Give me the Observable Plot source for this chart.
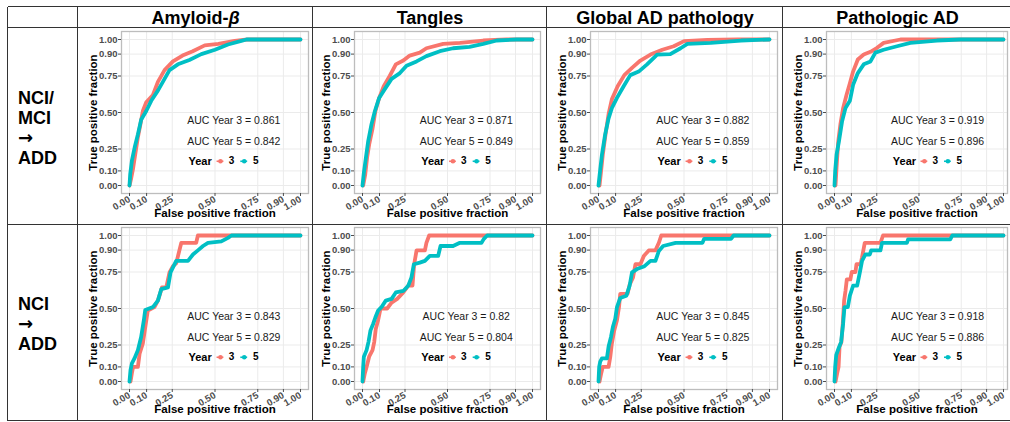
<!DOCTYPE html>
<html><head><meta charset="utf-8">
<script src="https://cdn.jsdelivr.net/npm/d3@7"></script>
<script src="https://cdn.jsdelivr.net/npm/@observablehq/plot@0.6"></script>
<style>
html,body{margin:0;padding:0;background:#fff;width:1010px;height:422px;overflow:hidden;font-family:Arial,"Liberation Sans",sans-serif;}
#root{position:relative;width:1010px;height:422px;overflow:hidden;}
.hl{position:absolute;height:0;border-top:1.6px solid #333;}
.vl{position:absolute;width:0;border-left:1.6px solid #333;}
.hdr{position:absolute;font-weight:bold;font-size:18px;text-align:center;line-height:21px;color:#000;white-space:nowrap;}
.rowlab{position:absolute;font-weight:bold;font-size:18px;line-height:20px;color:#000;}
.rowlab .arr{font-family:"DejaVu Sans",sans-serif;font-weight:bold;font-size:18px;}
.panel{position:absolute;color:#4d4d4d;}
</style></head><body><div id="root"></div>
<script>
// ---- categories / labels ----
const columnHeaders = ["Amyloid-<i>β</i>", "Tangles", "Global AD pathology", "Pathologic AD"];
const rowLabels = [["NCI/", "MCI", "→", "ADD"], ["NCI", "→", "ADD"]];
const years = ["3", "5"];
const yearColors = ["#F8766D", "#00BFC4"];
const tickValues = [0, 0.1, 0.25, 0.5, 0.75, 0.9, 1];
const xTitle = "False positive fraction";
const yTitle = "True positive fraction";
const legendTitle = "Year";

// ---- AUC values (row-major: NCI/MCI row, then NCI row) ----
const aucYear3 = [["0.861", "0.871", "0.882", "0.919"], ["0.843", "0.82", "0.845", "0.918"]];
const aucYear5 = [["0.842", "0.849", "0.859", "0.896"], ["0.829", "0.804", "0.825", "0.886"]];

// ---- ROC curves [fpr, tpr] ----
const rocAmyloidAll3 = [[0,0],[0.01,0.05],[0.02,0.11],[0.033,0.21],[0.049,0.33],[0.064,0.42],[0.078,0.51],[0.098,0.57],[0.137,0.62],[0.166,0.71],[0.205,0.79],[0.254,0.85],[0.31,0.89],[0.37,0.92],[0.44,0.96],[0.52,0.97],[0.615,0.99],[0.69,1],[1,1]];
const rocAmyloidAll5 = [[0,0],[0.004,0.075],[0.014,0.17],[0.03,0.26],[0.049,0.35],[0.068,0.45],[0.098,0.51],[0.127,0.58],[0.166,0.65],[0.205,0.73],[0.234,0.79],[0.283,0.83],[0.35,0.86],[0.42,0.9],[0.5,0.93],[0.576,0.966],[0.654,0.99],[0.684,1],[1,1]];
const rocTanglesAll3 = [[0.004,0],[0.016,0.075],[0.027,0.19],[0.039,0.28],[0.059,0.39],[0.076,0.51],[0.098,0.6],[0.125,0.68],[0.16,0.75],[0.196,0.83],[0.24,0.856],[0.278,0.89],[0.337,0.91],[0.376,0.94],[0.475,0.97],[0.573,0.977],[0.71,0.993],[0.847,1],[1,1]];
const rocTanglesAll5 = [[0,0],[0.008,0.087],[0.02,0.19],[0.033,0.3],[0.053,0.42],[0.073,0.51],[0.098,0.6],[0.131,0.66],[0.171,0.73],[0.22,0.77],[0.259,0.82],[0.318,0.85],[0.376,0.886],[0.455,0.92],[0.533,0.94],[0.63,0.95],[0.71,0.97],[0.79,0.993],[0.906,1],[1,1]];
const rocGlobalAll3 = [[0.006,0],[0.014,0.087],[0.025,0.21],[0.041,0.35],[0.059,0.49],[0.078,0.59],[0.112,0.68],[0.151,0.756],[0.196,0.806],[0.245,0.856],[0.304,0.897],[0.373,0.93],[0.44,0.954],[0.5,0.989],[0.637,0.998],[0.814,1],[1,1]];
const rocGlobalAll5 = [[0,0],[0.008,0.087],[0.02,0.21],[0.039,0.35],[0.059,0.46],[0.078,0.53],[0.108,0.6],[0.147,0.68],[0.186,0.756],[0.235,0.78],[0.284,0.83],[0.343,0.897],[0.42,0.9],[0.48,0.94],[0.52,0.97],[0.657,0.977],[0.833,0.993],[1,1]];
const rocPathAll3 = [[0.006,0],[0.012,0.12],[0.022,0.3],[0.035,0.42],[0.051,0.53],[0.071,0.62],[0.091,0.7],[0.11,0.78],[0.138,0.863],[0.173,0.897],[0.213,0.916],[0.252,0.943],[0.291,0.977],[0.39,1],[1,1]];
const rocPathAll5 = [[0,0],[0.004,0.098],[0.012,0.21],[0.026,0.3],[0.045,0.44],[0.065,0.53],[0.091,0.58],[0.11,0.69],[0.138,0.77],[0.173,0.83],[0.213,0.85],[0.242,0.91],[0.291,0.93],[0.37,0.954],[0.449,0.977],[0.606,0.993],[0.744,1],[1,1]];

const rocAmyloidNci3 = [[0.006,0],[0.014,0.057],[0.021,0.1],[0.049,0.1],[0.059,0.19],[0.078,0.26],[0.092,0.37],[0.107,0.486],[0.146,0.51],[0.166,0.554],[0.19,0.645],[0.215,0.645],[0.234,0.747],[0.254,0.79],[0.273,0.81],[0.303,0.95],[0.39,0.95],[0.4,1],[1,1]];
const rocAmyloidNci5 = [[0,0],[0.006,0.08],[0.014,0.124],[0.029,0.158],[0.049,0.215],[0.068,0.305],[0.084,0.42],[0.092,0.49],[0.137,0.51],[0.166,0.554],[0.186,0.633],[0.225,0.645],[0.24,0.747],[0.273,0.826],[0.342,0.826],[0.371,0.87],[0.4,0.898],[0.43,0.928],[0.459,0.95],[0.537,0.96],[0.576,0.984],[0.596,1],[1,1]];
const rocTanglesNci3 = [[0.004,0],[0.014,0.057],[0.024,0.1],[0.039,0.17],[0.059,0.215],[0.069,0.27],[0.078,0.36],[0.092,0.42],[0.106,0.5],[0.145,0.5],[0.171,0.54],[0.204,0.566],[0.24,0.61],[0.269,0.656],[0.294,0.656],[0.304,0.803],[0.318,0.898],[0.367,0.898],[0.376,0.95],[0.392,1],[1,1]];
const rocTanglesNci5 = [[0,0],[0.004,0.1],[0.008,0.17],[0.024,0.215],[0.035,0.27],[0.047,0.35],[0.063,0.396],[0.076,0.44],[0.092,0.486],[0.112,0.51],[0.137,0.554],[0.171,0.566],[0.196,0.61],[0.24,0.62],[0.269,0.656],[0.288,0.713],[0.302,0.803],[0.337,0.814],[0.367,0.826],[0.396,0.86],[0.445,0.86],[0.459,0.928],[0.533,0.928],[0.573,0.95],[0.7,0.95],[0.714,0.977],[0.733,1],[1,1]];
const rocGlobalNci3 = [[0.006,0],[0.016,0.057],[0.025,0.1],[0.059,0.1],[0.069,0.17],[0.078,0.26],[0.092,0.35],[0.108,0.42],[0.12,0.51],[0.127,0.6],[0.17,0.6],[0.182,0.663],[0.202,0.713],[0.216,0.803],[0.245,0.803],[0.265,0.86],[0.294,0.898],[0.333,0.898],[0.353,0.95],[0.367,1],[1,1]];
const rocGlobalNci5 = [[0,0],[0.004,0.1],[0.01,0.136],[0.02,0.158],[0.049,0.158],[0.059,0.24],[0.073,0.305],[0.084,0.373],[0.098,0.43],[0.108,0.51],[0.127,0.572],[0.163,0.588],[0.182,0.656],[0.196,0.747],[0.225,0.77],[0.269,0.79],[0.304,0.826],[0.333,0.826],[0.353,0.894],[0.378,0.928],[0.451,0.95],[0.608,0.95],[0.618,0.977],[0.775,0.977],[0.79,1],[1,1]];
const rocPathNci3 = [[0.006,0],[0.016,0.057],[0.024,0.1],[0.03,0.24],[0.041,0.27],[0.049,0.396],[0.057,0.554],[0.065,0.62],[0.073,0.7],[0.094,0.7],[0.102,0.75],[0.124,0.75],[0.13,0.803],[0.154,0.803],[0.163,0.85],[0.179,0.95],[0.272,0.95],[0.287,1],[1,1]];
const rocPathNci5 = [[0,0],[0.004,0.1],[0.01,0.18],[0.024,0.226],[0.039,0.27],[0.051,0.396],[0.059,0.51],[0.079,0.51],[0.091,0.588],[0.11,0.656],[0.134,0.656],[0.15,0.747],[0.163,0.826],[0.183,0.87],[0.209,0.87],[0.217,0.898],[0.272,0.898],[0.281,0.95],[0.429,0.95],[0.435,0.973],[0.685,0.973],[0.697,1],[1,1]];

const curves = [
  [[rocAmyloidAll3, rocAmyloidAll5], [rocTanglesAll3, rocTanglesAll5], [rocGlobalAll3, rocGlobalAll5], [rocPathAll3, rocPathAll5]],
  [[rocAmyloidNci3, rocAmyloidNci5], [rocTanglesNci3, rocTanglesNci5], [rocGlobalNci3, rocGlobalNci5], [rocPathNci3, rocPathNci5]]
];

// ---- layout (pixels) ----
const colEdges = [8, 78, 313, 547, 783, 1020];
const rowEdges = [7, 28, 225, 421];
const panelLeft = [121, 354, 590, 826];
const panelRight = [308, 540, 777, 1007];
const panelTop = [30.7, 227.3];
const panelH = 162;

const root = document.getElementById("root");
function add(cls, css, html) {
  const d = document.createElement("div");
  d.className = cls;
  Object.assign(d.style, css);
  if (html !== undefined) d.innerHTML = html;
  root.appendChild(d);
  return d;
}

// Panels
const ML = 43, MR = 2, MT = 2, MB = 32;
const FONT = "Arial, 'Liberation Sans', sans-serif";
for (let r = 0; r < 2; r++) {
  for (let c = 0; c < 4; c++) {
    const pw = panelRight[c] - panelLeft[c];
    const insetR = c === 3 ? 4 : 8;
    const [c3, c5] = curves[r][c];
    const chart = Plot.plot({
      width: ML + pw + MR,
      height: MT + panelH + MB,
      marginLeft: ML, marginRight: MR, marginTop: MT, marginBottom: MB,
      style: {fontFamily: FONT, background: "transparent", overflow: "visible", color: "#4d4d4d"},
      x: {domain: [0, 1], insetLeft: 8, insetRight: insetR},
      y: {domain: [0, 1], insetTop: 8, insetBottom: 8},
      marks: [
        Plot.gridX(tickValues, {stroke: "#ebebeb", strokeOpacity: 1, strokeWidth: 1}),
        Plot.gridY(tickValues, {stroke: "#ebebeb", strokeOpacity: 1, strokeWidth: 1}),
        Plot.frame({stroke: "#bdbdbd", strokeWidth: 1.3}),
        Plot.axisX({ticks: tickValues, tickFormat: d3.format(".2f"), tickRotate: -30, tickSize: 3, tickPadding: 2,
          textAnchor: "end", fontSize: 9.5, fontWeight: "bold", label: null}),
        Plot.axisY({ticks: tickValues, tickFormat: d3.format(".2f"), tickSize: 3, tickPadding: 1,
          fontSize: 9.5, fontWeight: "bold", label: null}),
        Plot.text([yTitle], {frameAnchor: "left", dx: -28, rotate: -90, textAnchor: "middle", fontSize: 11.5, fontWeight: "bold", fill: "#000"}),
        Plot.text([xTitle], {frameAnchor: "bottom", dy: 23.5, textAnchor: "middle", fontSize: 11.5, fontWeight: "bold", fill: "#000"}),
        Plot.line(c3, {x: d => d[0], y: d => d[1], stroke: yearColors[0], strokeWidth: 3.8}),
        Plot.line(c5, {x: d => d[0], y: d => d[1], stroke: yearColors[1], strokeWidth: 3.8}),
        Plot.text([`AUC Year ${years[0]} = ${aucYear3[r][c]}`], {x: 0.61, y: 0.447, fontSize: 10.5, fill: "#1a1a1a"}),
        Plot.text([`AUC Year ${years[1]} = ${aucYear5[r][c]}`], {x: 0.61, y: 0.298, fontSize: 10.5, fill: "#1a1a1a"}),
        Plot.text([legendTitle], {x: 0.345, y: 0.166, textAnchor: "start", fontSize: 11, fontWeight: "bold", fill: "#000"}),
        Plot.ruleY([0.166], {x1: 0.512, x2: 0.552, stroke: yearColors[0], strokeWidth: 1.6}),
        Plot.dot([0.532], {x: d => d, y: 0.166, r: 2.3, fill: yearColors[0], stroke: "none"}),
        Plot.text([years[0]], {x: 0.596, y: 0.166, fontSize: 10, fontWeight: "bold", fill: "#000"}),
        Plot.ruleY([0.166], {x1: 0.651, x2: 0.691, stroke: yearColors[1], strokeWidth: 1.6}),
        Plot.dot([0.671], {x: d => d, y: 0.166, r: 2.3, fill: yearColors[1], stroke: "none"}),
        Plot.text([years[1]], {x: 0.739, y: 0.166, fontSize: 10, fontWeight: "bold", fill: "#000"})
      ]
    });
    const holder = add("panel", {left: (panelLeft[c] - ML) + "px", top: (panelTop[r] - MT) + "px"});
    holder.appendChild(chart);
  }
}

// Table lines
for (const y of rowEdges) add("hl", {left: colEdges[0] + "px", top: (y - 0.8) + "px", width: (colEdges[5] - colEdges[0]) + "px"});
for (const x of colEdges.slice(0, 5)) add("vl", {left: (x - 0.8) + "px", top: rowEdges[0] + "px", height: (rowEdges[3] - rowEdges[0]) + "px"});

// Column headers
columnHeaders.forEach((h, i) => {
  const l = colEdges[i + 1], rgt = i === 3 ? 1012 : colEdges[i + 2];
  add("hdr", {left: l + "px", width: (rgt - l) + "px", top: (rowEdges[0] + 0.5) + "px", height: (rowEdges[1] - rowEdges[0]) + "px"}, h);
});

// Row labels
rowLabels.forEach((lines, i) => {
  const top = rowEdges[i + 1], bottom = rowEdges[i + 2];
  const blockH = lines.length * 20;
  const center = (top + bottom) / 2 + (i === 0 ? 1.5 : 1);
  const html = lines.map(t => t === "→" ? `<span class="arr">${t}</span>` : t).join("<br>");
  add("rowlab", {left: "18px", top: (center - blockH / 2) + "px"}, html);
});
</script></body></html>
